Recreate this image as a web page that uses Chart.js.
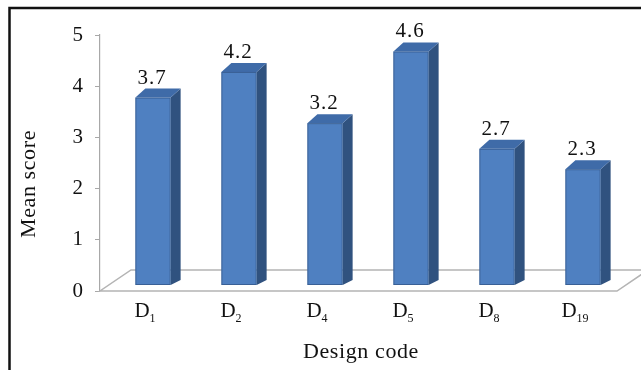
<!DOCTYPE html>
<html>
<head>
<meta charset="utf-8">
<script src="https://cdn.jsdelivr.net/npm/chart.js@4.4.1/dist/chart.umd.min.js"></script>
<style>
  html, body { margin: 0; padding: 0; background: #ffffff; }
  #wrap { width: 641px; height: 370px; position: relative; }
</style>
</head>
<body>
<div id="wrap"><canvas id="chart" width="641" height="370"></canvas></div>
<script>
// Design codes (letter + subscript number) and their mean scores
const codeLetters = ['D', 'D', 'D', 'D', 'D', 'D'];
const codeNumbers = ['1', '2', '4', '5', '8', '19'];
const categories = codeLetters.map((d, i) => d + codeNumbers[i]);
const meanScores = [3.7, 4.2, 3.2, 4.6, 2.7, 2.3];
const yTicks = [0, 1, 2, 3, 4, 5];
const xTitle = 'Design code';
const yTitle = 'Mean score';

const FONT = "'Liberation Serif', 'Times New Roman', serif";
const FRONT = '#4f80c1';
const SIDE = '#30527f';
const TOP = '#3f6ba8';
const EDGE = '#b4b4b4';

// 3D look: depth offsets of the bar boxes and of the floor
const BAR_DX = 10, BAR_DY_TOP = 9, BAR_DY_BOTTOM = 5;
const BAR_SHIFT_X = 10, BAR_SHIFT_Y = 4, BAR_BASE_LIFT = 6;
const FLOOR_DX = 31, FLOOR_DY = 21;

const threeD = {
  id: 'threeD',
  beforeDatasetsDraw(chart) {
    const { ctx, chartArea, scales } = chart;
    const y0 = scales.y.getPixelForValue(0);
    // floor plane
    ctx.save();
    ctx.beginPath();
    ctx.moveTo(chartArea.left, y0);
    ctx.lineTo(chartArea.right + 1, y0);
    ctx.lineTo(chartArea.right + 1 + FLOOR_DX, y0 - FLOOR_DY);
    ctx.lineTo(chartArea.left + FLOOR_DX, y0 - FLOOR_DY);
    ctx.closePath();
    ctx.fillStyle = '#ffffff';
    ctx.fill();
    ctx.strokeStyle = EDGE;
    ctx.lineWidth = 1.5;
    ctx.stroke();
    ctx.restore();
  },
  afterDatasetsDraw(chart) {
    const { ctx, scales } = chart;
    const meta = chart.getDatasetMeta(0);
    const y0 = scales.y.getPixelForValue(0);
    ctx.save();
    meta.data.forEach((bar, i) => {
      const w = bar.width;
      const cx = bar.x + BAR_SHIFT_X;
      const xl = cx - w / 2, xr = cx + w / 2;
      const yt = bar.y - BAR_SHIFT_Y;
      const yb = y0 - BAR_BASE_LIFT;
      // side face
      ctx.beginPath();
      ctx.moveTo(xr, yb);
      ctx.lineTo(xr + BAR_DX, yb - BAR_DY_BOTTOM);
      ctx.lineTo(xr + BAR_DX, yt - BAR_DY_TOP);
      ctx.lineTo(xr, yt);
      ctx.closePath();
      ctx.fillStyle = SIDE;
      ctx.fill();
      // top face
      ctx.beginPath();
      ctx.moveTo(xl, yt);
      ctx.lineTo(xl + BAR_DX, yt - BAR_DY_TOP);
      ctx.lineTo(xr + BAR_DX, yt - BAR_DY_TOP);
      ctx.lineTo(xr, yt);
      ctx.closePath();
      ctx.fillStyle = TOP;
      ctx.fill();
      // front face
      ctx.fillStyle = FRONT;
      ctx.fillRect(xl, yt, w, yb - yt);
      ctx.strokeStyle = 'rgba(40,70,115,0.55)';
      ctx.lineWidth = 1;
      ctx.strokeRect(xl + 0.5, yt + 0.5, w - 1, yb - yt - 1);

      // value label above the bar
      ctx.fillStyle = '#111111';
      ctx.font = '21px ' + FONT;
      ctx.letterSpacing = '1px';
      ctx.textAlign = 'center';
      ctx.textBaseline = 'alphabetic';
      ctx.fillText(meanScores[i].toFixed(1), cx - 1, bar.y - 18);
      ctx.letterSpacing = '0px';

      // category label with subscript
      ctx.font = '21px ' + FONT;
      const wD = ctx.measureText(codeLetters[i]).width;
      ctx.font = '12px ' + FONT;
      const wN = ctx.measureText(codeNumbers[i]).width;
      const lx = bar.x + 2 - (wD + wN) / 2;
      ctx.textAlign = 'left';
      ctx.font = '21px ' + FONT;
      ctx.fillText(codeLetters[i], lx, 317);
      ctx.font = '12px ' + FONT;
      ctx.fillText(codeNumbers[i], lx + wD, 322);
    });
    ctx.restore();
  },
  afterDraw(chart) {
    const { ctx, chartArea } = chart;
    ctx.save();
    ctx.fillStyle = '#111111';
    ctx.font = '22px ' + FONT;
    ctx.letterSpacing = '0.6px';
    ctx.textAlign = 'center';
    ctx.textBaseline = 'alphabetic';
    ctx.fillText(xTitle, (chartArea.left + chartArea.right) / 2 + 3, 358);
    ctx.translate(35, 184);
    ctx.rotate(-Math.PI / 2);
    ctx.fillText(yTitle, 0, 0);
    ctx.restore();
    // outer frame
    ctx.save();
    ctx.strokeStyle = '#111111';
    ctx.lineWidth = 2.5;
    ctx.beginPath();
    ctx.moveTo(9.5, 372);
    ctx.lineTo(9.5, 8);
    ctx.lineTo(645, 8);
    ctx.stroke();
    ctx.restore();
  }
};

new Chart(document.getElementById('chart'), {
  type: 'bar',
  data: {
    labels: categories,
    datasets: [{
      data: meanScores,
      backgroundColor: 'rgba(0,0,0,0)',
      borderWidth: 0,
      categoryPercentage: 1,
      barPercentage: 0.41
    }]
  },
  options: {
    responsive: false,
    animation: false,
    layout: { padding: { top: 35, right: 25, bottom: 79, left: 0 } },
    plugins: { legend: { display: false }, tooltip: { enabled: false } },
    scales: {
      x: { display: false, offset: true },
      y: {
        min: 0,
        max: 5,
        afterFit(scale) { scale.width = 100; },
        afterBuildTicks(scale) { scale.ticks = yTicks.map(v => ({ value: v })); },
        ticks: {
          padding: 12,
          color: '#111111',
          font: { family: FONT, size: 21 }
        },
        grid: { drawOnChartArea: false, tickLength: 5, color: '#a8a8a8' },
        border: { display: true, color: '#a8a8a8', width: 1.2 }
      }
    }
  },
  plugins: [threeD]
});
</script>
</body>
</html>
